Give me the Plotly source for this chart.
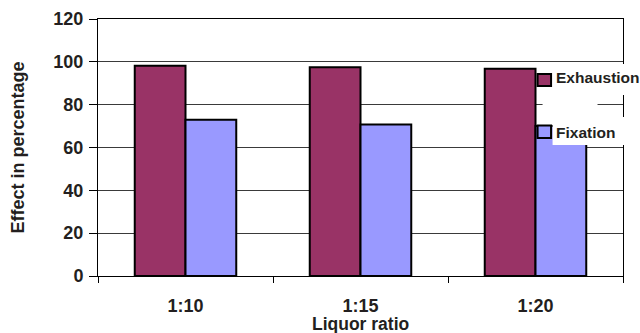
import plotly.graph_objects as go

# Data
ratios = ["1:10", "1:15", "1:20"]
exhaustion = [98.2, 97.5, 96.8]
fixation = [73.0, 70.7, 70.0]
series_names = ["Exhaustion", "Fixation"]
series_colors = ["#993366", "#9999ff"]
y_ticks = [0, 20, 40, 60, 80, 100, 120]

FONT = "Liberation Sans, Arial, sans-serif"
TEXT = "#231f20"

W, H = 640, 333
ML, MR, MT, MB = 98, 16.5, 19, 57
PW, PH = W - ML - MR, H - MT - MB


def px(x):
    return (x - ML) / PW


def py(y):
    return (H - MB - y) / PH


fig = go.Figure()
for name, vals, col in zip(series_names, [exhaustion, fixation], series_colors):
    fig.add_trace(go.Bar(
        x=ratios, y=vals, name=name,
        marker=dict(color=col, line=dict(color="black", width=2)),
        showlegend=False,
    ))

# Legend block: white patches, swatches and labels
shapes = [
    dict(type="rect", xref="paper", yref="paper", x0=px(553), x1=px(640), y0=py(64), y1=py(95),
         fillcolor="white", line=dict(width=0), layer="above"),
    dict(type="rect", xref="paper", yref="paper", x0=px(543), x1=px(598), y0=py(97), y1=py(114),
         fillcolor="white", line=dict(width=0), layer="above"),
    dict(type="rect", xref="paper", yref="paper", x0=px(553), x1=px(640), y0=py(117), y1=py(145),
         fillcolor="white", line=dict(width=0), layer="above"),
]
annotations = []
legend_rows = [(74, 86, 77.5), (125.5, 138, 132.5)]
for (top, bot, mid), name, col in zip(legend_rows, series_names, series_colors):
    shapes.append(dict(type="rect", xref="paper", yref="paper",
                       x0=px(538), x1=px(551.5), y0=py(bot), y1=py(top),
                       fillcolor=col, line=dict(color="black", width=2), layer="above"))
    annotations.append(dict(xref="paper", yref="paper", x=px(554), y=py(mid),
                            xanchor="left", yanchor="middle", showarrow=False,
                            text=f"<b>{name}</b>",
                            font=dict(family=FONT, size=15.5, color=TEXT)))

# x-axis title
annotations.append(dict(xref="paper", yref="paper", x=0.5, y=py(323.5),
                        xanchor="center", yanchor="middle", showarrow=False,
                        text="<b>Liquor ratio</b>",
                        font=dict(family=FONT, size=17.5, color=TEXT)))

fig.update_layout(
    width=W, height=H,
    margin=dict(l=ML, r=MR, t=MT, b=MB, pad=0),
    paper_bgcolor="white", plot_bgcolor="white",
    barmode="group", bargap=0.42, bargroupgap=0,
    font=dict(family=FONT, color=TEXT),
    shapes=shapes, annotations=annotations,
    xaxis=dict(
        type="category", tickson="boundaries", automargin=False,
        ticks="outside", ticklen=6, tickwidth=1, tickcolor="black",
        showline=True, linecolor="black", linewidth=1, mirror=True,
        showgrid=False, ticklabelstandoff=13,
        tickfont=dict(family=FONT, size=18, color=TEXT, weight="bold"),
    ),
    yaxis=dict(
        range=[0, 120], tickvals=y_ticks, automargin=False,
        ticks="outside", ticklen=8, tickwidth=1, tickcolor="black",
        showline=True, linecolor="black", linewidth=1, mirror=True,
        showgrid=True, gridcolor="#3a3a3a", gridwidth=1.2, zeroline=False,
        ticklabelstandoff=2,
        tickfont=dict(family=FONT, size=18, color=TEXT, weight="bold"),
        title=dict(text="<b>Effect in percentage</b>", standoff=24,
                   font=dict(family=FONT, size=18, color=TEXT)),
    ),
)

fig.write_html("out.html")
